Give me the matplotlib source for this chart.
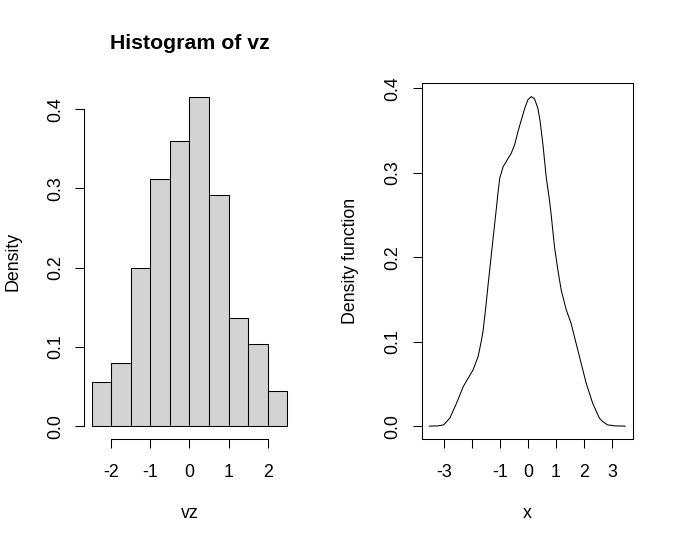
import numpy as np
import matplotlib
matplotlib.use("Agg")
import matplotlib.pyplot as plt

plt.rcParams['font.family'] = ['Liberation Sans', 'DejaVu Sans']
plt.rcParams['font.size'] = 12.8

# histogram of vz (density scale), breaks every 0.5
bin_edges = [-2.5, -2.0, -1.5, -1.0, -0.5, 0.0, 0.5, 1.0, 1.5, 2.0, 2.5]
hist_density = [0.056, 0.080, 0.200, 0.312, 0.360, 0.416, 0.292, 0.136, 0.104, 0.044]

# density curve
dens_x = [-3.51, -3.2, -3.0, -2.89, -2.78, -2.54, -2.30, -1.95, -1.77, -1.65, -1.59,
          -1.50, -1.42, -1.30, -1.12, -1.06, -1.0, -0.88, -0.71, -0.59, -0.47,
          -0.35, -0.23, -0.11, 0.0, 0.12, 0.24, 0.36, 0.44, 0.54, 0.66, 0.77, 0.83,
          0.95, 1.07, 1.19, 1.37, 1.54, 1.66, 1.84, 2.08, 2.31, 2.55, 2.67, 2.84,
          3.1, 3.47]
dens_y = [0.0, 0.0003, 0.0015, 0.0054, 0.0095, 0.0272, 0.0469, 0.0666, 0.0824, 0.102, 0.114,
          0.140, 0.166, 0.203, 0.258, 0.277, 0.2935, 0.307, 0.3163, 0.323, 0.333,
          0.3487, 0.3625, 0.376, 0.386, 0.390, 0.3873, 0.376, 0.3605, 0.333, 0.2935, 0.268, 0.251,
          0.2125, 0.185, 0.161, 0.1376, 0.1219, 0.106, 0.0824, 0.0509, 0.0272, 0.0095, 0.0054, 0.0015,
          0.0003, 0.0]

left_ticks = [-2, -1, 0, 1, 2]
right_ticks = [-3, -2, -1, 0, 1, 2, 3]
right_ticklabels = ['-3', '', '-1', '0', '1', '2', '3']
y_ticks = [0.0, 0.1, 0.2, 0.3, 0.4]
y_ticklabels = ['0.0', '0.1', '0.2', '0.3', '0.4']

W, H = 676, 544
fig = plt.figure(figsize=(W / 100, H / 100), dpi=100)

ax_bottom = 439.3
ax_top = 83.4
ax_h = (ax_bottom - ax_top) / H
ax1 = fig.add_axes([84 / W, (H - ax_bottom) / H, 211 / W, ax_h])
ax2 = fig.add_axes([421.5 / W, (H - ax_bottom) / H, 211.5 / W, ax_h])

lw = 0.75

def r_axes(ax):
    ax.tick_params(axis='both', direction='out', length=6.3, width=lw, labelsize=12.8)
    ax.tick_params(axis='x', pad=11.8)
    ax.tick_params(axis='y', pad=8.0, labelrotation=90)
    for lab in ax.get_yticklabels():
        lab.set_va('center')
    for sp in ax.spines.values():
        sp.set_linewidth(lw)

# left: histogram
widths = np.diff(bin_edges)
ax1.bar(bin_edges[:-1], hist_density, width=widths, align='edge',
        color='#d3d3d3', edgecolor='black', linewidth=lw)
xr = bin_edges[-1] - bin_edges[0]
ax1.set_xlim(bin_edges[0] - 0.04 * xr, bin_edges[-1] + 0.04 * xr)
yr = max(hist_density)
ax1.set_ylim(-0.04 * yr, yr * 1.04)
ax1.set_xticks(left_ticks)
ax1.set_xticklabels([str(t) for t in left_ticks])
ax1.set_yticks(y_ticks)
ax1.set_yticklabels(y_ticklabels)
ax1.spines['top'].set_visible(False)
ax1.spines['right'].set_visible(False)
ax1.spines['bottom'].set_bounds(left_ticks[0], left_ticks[-1])
ax1.spines['left'].set_bounds(y_ticks[0], y_ticks[-1])
r_axes(ax1)
ax1.set_title('Histogram of vz', fontsize=15.3, fontweight='bold', pad=24.5)
ax1.set_xlabel('vz')
ax1.set_ylabel('Density')

# right: density curve
ax2.plot(dens_x, dens_y, color='black', linewidth=lw)
xr2 = dens_x[-1] - dens_x[0]
ax2.set_xlim(dens_x[0] - 0.04 * xr2, dens_x[-1] + 0.04 * xr2)
yr2 = max(dens_y)
ax2.set_ylim(-0.04 * yr2, yr2 * 1.04)
ax2.set_xticks(right_ticks)
ax2.set_xticklabels(right_ticklabels)
ax2.set_yticks(y_ticks)
ax2.set_yticklabels(y_ticklabels)
r_axes(ax2)
ax2.set_xlabel('x')
ax2.set_ylabel('Density function')

for ax in (ax1, ax2):
    ax.xaxis.set_label_coords(0.5, -(66.0 / (ax_bottom - ax_top)))
    ax.yaxis.set_label_coords(-(62.5 / 211), 0.5)

fig.savefig('out.png', dpi=100)
